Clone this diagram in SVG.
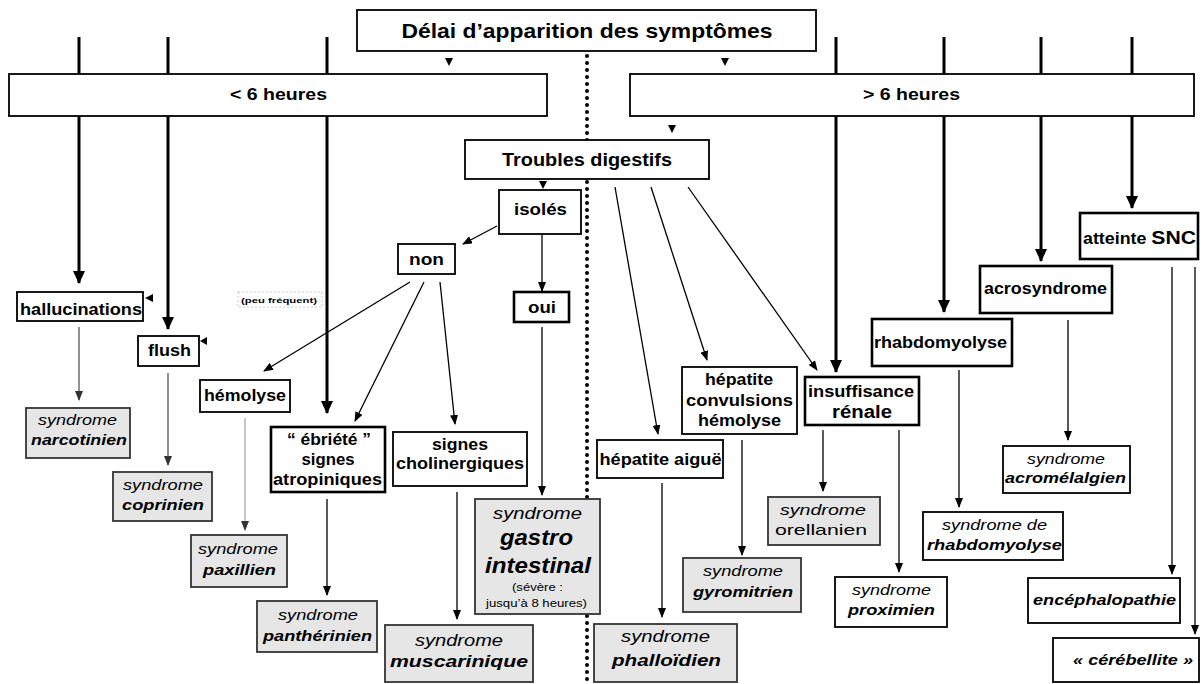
<svg xmlns="http://www.w3.org/2000/svg" width="1201" height="684" viewBox="0 0 1201 684">
<style>
.box{fill:#fff;stroke:#000;stroke-width:1.8}
.thk{stroke-width:2.6}
.gry{fill:#e6e6e6;stroke:#333}
.t{font-family:"Liberation Sans",Arial,sans-serif;font-weight:bold;fill:#000;text-anchor:middle;font-size:16px}
.s{font-style:italic;font-weight:normal;font-size:15px}
.n{font-style:italic;font-weight:bold;font-size:15px}
.w{stroke:#000;stroke-width:3;fill:none}
.l{stroke:#000;stroke-width:1.3;fill:none}
.g1{stroke:#555}
.g2{stroke:#aaa}
.dot{stroke:#000;stroke-width:4;stroke-linecap:round;stroke-dasharray:0 7;fill:none}
</style>
<defs>
<marker id="ah" markerUnits="userSpaceOnUse" markerWidth="10" markerHeight="8" refX="9" refY="4" orient="auto"><path d="M0,0 L10,4 L0,8 z" fill="#000"/></marker>
<marker id="ahg" markerUnits="userSpaceOnUse" markerWidth="10" markerHeight="8" refX="9" refY="4" orient="auto"><path d="M0,0 L10,4 L0,8 z" fill="#333"/></marker>
<marker id="aw" markerUnits="userSpaceOnUse" markerWidth="13" markerHeight="12" refX="12" refY="6" orient="auto"><path d="M0,0 L13,6 L0,12 z" fill="#000"/></marker>
</defs>
<rect width="1201" height="684" fill="#fff"/>
<g id="connectors">
<line class="dot" x1="587" y1="56" x2="587" y2="684"/>
<line class="w" x1="79" y1="37" x2="79" y2="283" marker-end="url(#aw)"/>
<line class="w" x1="168" y1="37" x2="168" y2="329" marker-end="url(#aw)"/>
<line class="w" x1="327" y1="37" x2="327" y2="413" marker-end="url(#aw)"/>
<line class="w" x1="836" y1="37" x2="836" y2="372" marker-end="url(#aw)"/>
<line class="w" x1="944" y1="37" x2="944" y2="312" marker-end="url(#aw)"/>
<line class="w" x1="1041" y1="37" x2="1041" y2="261" marker-end="url(#aw)"/>
<line class="w" x1="1132" y1="37" x2="1132" y2="208" marker-end="url(#aw)"/>
<polygon points="445,58 453,58 449,66" fill="#000"/>
<polygon points="721,58 729,58 725,66" fill="#000"/>
<polygon points="668,125 676,125 672,133" fill="#000"/>
<polygon points="539,181 547,181 543,189" fill="#000"/>
<polygon points="145,298 153,294 153,302" fill="#000"/>
<polygon points="200,341 207,337 207,345" fill="#000"/>
<line class="l" x1="497" y1="226" x2="463" y2="244" marker-end="url(#ah)"/>
<line class="l" x1="542" y1="234" x2="542" y2="291" marker-end="url(#ah)"/>
<line class="l" x1="410" y1="282" x2="264" y2="371" marker-end="url(#ah)"/>
<line class="l" x1="424" y1="282" x2="355" y2="421" marker-end="url(#ah)"/>
<line class="l" x1="440" y1="282" x2="455" y2="424" marker-end="url(#ah)"/>
<line class="l" x1="615" y1="187" x2="658" y2="434" marker-end="url(#ah)"/>
<line class="l" x1="651" y1="187" x2="707" y2="360" marker-end="url(#ah)"/>
<line class="l" x1="688" y1="187" x2="817" y2="370" marker-end="url(#ah)"/>
<line class="l" x1="542" y1="327" x2="542" y2="495" marker-end="url(#ah)"/>
<line class="l g1" x1="79" y1="327" x2="79" y2="400" marker-end="url(#ahg)"/>
<line class="l g1" x1="168" y1="373" x2="168" y2="465" marker-end="url(#ahg)"/>
<line class="l g2" x1="245" y1="418" x2="245" y2="530" marker-end="url(#ahg)"/>
<line class="l" x1="327" y1="499" x2="327" y2="595" marker-end="url(#ah)"/>
<line class="l" x1="457" y1="492" x2="457" y2="619" marker-end="url(#ah)"/>
<line class="l" x1="662" y1="483" x2="662" y2="617" marker-end="url(#ah)"/>
<line class="l" x1="742" y1="440" x2="742" y2="555" marker-end="url(#ah)"/>
<line class="l" x1="823" y1="430" x2="823" y2="491" marker-end="url(#ah)"/>
<line class="l" x1="899" y1="430" x2="899" y2="572" marker-end="url(#ah)"/>
<line class="l" x1="959" y1="370" x2="959" y2="507" marker-end="url(#ah)"/>
<line class="l" x1="1068" y1="320" x2="1068" y2="440" marker-end="url(#ah)"/>
<line class="l" x1="1172" y1="267" x2="1172" y2="574" marker-end="url(#ah)"/>
<line class="l" x1="1195" y1="267" x2="1195" y2="634" marker-end="url(#ah)"/>
</g>
<g id="title"><rect class="box" x="357" y="10" width="459" height="41"/><text class="t" x="587" y="38" style="font-size:21px" textLength="371" lengthAdjust="spacingAndGlyphs">Délai d’apparition des symptômes</text></g>
<g id="lt6"><rect class="box" x="9" y="74" width="538" height="42"/><text class="t" x="278.5" y="100" style="font-size:17px" textLength="97" lengthAdjust="spacingAndGlyphs">&lt; 6 heures</text></g>
<g id="gt6"><rect class="box" x="630" y="74" width="564" height="42"/><text class="t" x="911.5" y="100" style="font-size:17px" textLength="97" lengthAdjust="spacingAndGlyphs">&gt; 6 heures</text></g>
<g id="troubles"><rect class="box" x="465" y="140" width="244" height="39"/><text class="t" x="587" y="166" style="font-size:18px" textLength="170" lengthAdjust="spacingAndGlyphs">Troubles digestifs</text></g>
<g id="isoles"><rect class="box" x="499" y="190" width="82" height="44"/><text class="t" x="540.5" y="215" style="font-size:17px" textLength="53" lengthAdjust="spacingAndGlyphs">isolés</text></g>
<g id="non"><rect class="box" x="398" y="244" width="57" height="30"/><text class="t" x="426.5" y="265" textLength="35" lengthAdjust="spacingAndGlyphs">non</text></g>
<g id="oui"><rect class="box thk" x="514" y="292" width="55" height="30"/><text class="t" x="542" y="313" textLength="28" lengthAdjust="spacingAndGlyphs">oui</text></g>
<g id="hallucinations"><rect class="box" x="17" y="292" width="126" height="29"/><text class="t" x="81" y="315" textLength="122" lengthAdjust="spacingAndGlyphs">hallucinations</text></g>
<g id="flush"><rect class="box" x="138" y="336" width="61" height="30"/><text class="t" x="169.5" y="356" textLength="43" lengthAdjust="spacingAndGlyphs">flush</text></g>
<g id="peu"><rect x="238" y="292" width="84" height="15" fill="#fff" stroke="#bbb" stroke-width="0.8" stroke-dasharray="2 2"/><text class="t" x="279" y="303" style="font-size:8px" textLength="76" lengthAdjust="spacingAndGlyphs">(peu fréquent)</text></g>
<g id="hemolyse"><rect class="box" x="200" y="380" width="90" height="32"/><text class="t" x="245" y="401" textLength="82" lengthAdjust="spacingAndGlyphs">hémolyse</text></g>
<g id="ebriete"><rect class="box thk" x="271" y="427" width="114" height="65"/><text class="t" x="329" y="445" textLength="84" lengthAdjust="spacingAndGlyphs">“ ébriété ”</text><text class="t" x="328" y="465" textLength="53" lengthAdjust="spacingAndGlyphs">signes</text><text class="t" x="327.5" y="485" textLength="109" lengthAdjust="spacingAndGlyphs">atropiniques</text></g>
<g id="cholinergiques"><rect class="box" x="393" y="432" width="134" height="54"/><text class="t" x="460" y="450" textLength="56" lengthAdjust="spacingAndGlyphs">signes</text><text class="t" x="460" y="469" textLength="128" lengthAdjust="spacingAndGlyphs">cholinergiques</text></g>
<g id="hepaigue"><rect class="box" x="597" y="440" width="126" height="38"/><text class="t" x="660.5" y="465" textLength="122" lengthAdjust="spacingAndGlyphs">hépatite aiguë</text></g>
<g id="hepconv"><rect class="box" x="682" y="367" width="115" height="67"/><text class="t" x="739" y="385" textLength="68" lengthAdjust="spacingAndGlyphs">hépatite</text><text class="t" x="739.5" y="406" textLength="107" lengthAdjust="spacingAndGlyphs">convulsions</text><text class="t" x="739.5" y="426" textLength="83" lengthAdjust="spacingAndGlyphs">hémolyse</text></g>
<g id="insuffisance"><rect class="box thk" x="805" y="377" width="114" height="48"/><text class="t" x="861" y="397" textLength="106" lengthAdjust="spacingAndGlyphs">insuffisance</text><text class="t" x="862" y="418" style="font-size:18px" textLength="60" lengthAdjust="spacingAndGlyphs">rénale</text></g>
<g id="rhabdo"><rect class="box thk" x="872" y="319" width="140" height="47"/><text class="t" x="940.5" y="348" textLength="133" lengthAdjust="spacingAndGlyphs">rhabdomyolyse</text></g>
<g id="acro"><rect class="box thk" x="980" y="266" width="132" height="47"/><text class="t" x="1045.5" y="294" textLength="123" lengthAdjust="spacingAndGlyphs">acrosyndrome</text></g>
<g id="snc"><rect class="box thk" x="1080" y="213" width="118" height="46"/><text class="t" x="1139.5" y="244" textLength="113" lengthAdjust="spacingAndGlyphs"><tspan style="font-size:16px">atteinte </tspan><tspan style="font-size:19px">SNC</tspan></text></g>
<g id="narcotinien"><rect class="box gry" x="26" y="408" width="104" height="50"/><text class="t s" x="77.5" y="425" textLength="79" lengthAdjust="spacingAndGlyphs">syndrome</text><text class="t n" x="79" y="445" textLength="96" lengthAdjust="spacingAndGlyphs">narcotinien</text></g>
<g id="coprinien"><rect class="box gry" x="113" y="472" width="99" height="49"/><text class="t s" x="163" y="490" textLength="80" lengthAdjust="spacingAndGlyphs">syndrome</text><text class="t n" x="163" y="510" textLength="82" lengthAdjust="spacingAndGlyphs">coprinien</text></g>
<g id="paxillien"><rect class="box gry" x="191" y="535" width="96" height="52"/><text class="t s" x="238" y="554" textLength="80" lengthAdjust="spacingAndGlyphs">syndrome</text><text class="t n" x="239.5" y="575" textLength="73" lengthAdjust="spacingAndGlyphs">paxillien</text></g>
<g id="pantherinien"><rect class="box gry" x="257" y="601" width="120" height="51"/><text class="t s" x="318" y="620" textLength="80" lengthAdjust="spacingAndGlyphs">syndrome</text><text class="t n" x="317.5" y="641" textLength="109" lengthAdjust="spacingAndGlyphs">panthérinien</text></g>
<g id="muscarinique"><rect class="box gry" x="385" y="625" width="148" height="57"/><text class="t s" x="459" y="646" style="font-size:17px" textLength="88" lengthAdjust="spacingAndGlyphs">syndrome</text><text class="t n" x="459" y="667" style="font-size:17px" textLength="138" lengthAdjust="spacingAndGlyphs">muscarinique</text></g>
<g id="gastro"><rect class="box gry" x="475" y="499" width="125" height="115"/><text class="t s" x="537.5" y="519" style="font-size:17px" textLength="89" lengthAdjust="spacingAndGlyphs">syndrome</text><text class="t n" x="536.5" y="545" style="font-size:22px" textLength="73" lengthAdjust="spacingAndGlyphs">gastro</text><text class="t n" x="538" y="573" style="font-size:22px" textLength="106" lengthAdjust="spacingAndGlyphs">intestinal</text><text class="t" x="537.5" y="591" style="font-size:10px;font-weight:normal" textLength="51" lengthAdjust="spacingAndGlyphs">(sévère :</text><text class="t" x="536.5" y="607" style="font-size:10px;font-weight:normal" textLength="101" lengthAdjust="spacingAndGlyphs">jusqu’à 8 heures)</text></g>
<g id="phalloidien"><rect class="box gry" x="594" y="624" width="143" height="58"/><text class="t s" x="665.5" y="642" style="font-size:17px" textLength="89" lengthAdjust="spacingAndGlyphs">syndrome</text><text class="t n" x="666.5" y="666" style="font-size:17px" textLength="109" lengthAdjust="spacingAndGlyphs">phalloïdien</text></g>
<g id="gyromitrien"><rect class="box gry" x="683" y="558" width="118" height="54"/><text class="t s" x="743" y="576" textLength="80" lengthAdjust="spacingAndGlyphs">syndrome</text><text class="t n" x="743" y="597" textLength="100" lengthAdjust="spacingAndGlyphs">gyromitrien</text></g>
<g id="orellanien"><rect class="box gry" x="768" y="497" width="112" height="48"/><text class="t s" x="823" y="515" textLength="86" lengthAdjust="spacingAndGlyphs">syndrome</text><text class="t" x="821" y="535" style="font-size:15px;font-weight:normal" textLength="92" lengthAdjust="spacingAndGlyphs">orellanien</text></g>
<g id="proximien"><rect class="box" x="835" y="577" width="112" height="50"/><text class="t s" x="891.5" y="595" textLength="79" lengthAdjust="spacingAndGlyphs">syndrome</text><text class="t n" x="891.5" y="615" textLength="87" lengthAdjust="spacingAndGlyphs">proximien</text></g>
<g id="synrhabdo"><rect class="box" x="923" y="512" width="140" height="48"/><text class="t s" x="994.5" y="530" textLength="105" lengthAdjust="spacingAndGlyphs">syndrome de</text><text class="t n" x="994.5" y="550" textLength="135" lengthAdjust="spacingAndGlyphs">rhabdomyolyse</text></g>
<g id="acromelalgien"><rect class="box" x="1003" y="446" width="127" height="47"/><text class="t s" x="1066" y="464" textLength="78" lengthAdjust="spacingAndGlyphs">syndrome</text><text class="t n" x="1065.5" y="483" textLength="121" lengthAdjust="spacingAndGlyphs">acromélalgien</text></g>
<g id="encephalopathie"><rect class="box" x="1028" y="578" width="152" height="45"/><text class="t n" x="1104.5" y="605" textLength="143" lengthAdjust="spacingAndGlyphs">encéphalopathie</text></g>
<g id="cerebellite"><rect class="box" x="1053" y="638" width="146" height="44"/><text class="t n" x="1133" y="665" textLength="120" lengthAdjust="spacingAndGlyphs">« cérébellite »</text></g>
</svg>
